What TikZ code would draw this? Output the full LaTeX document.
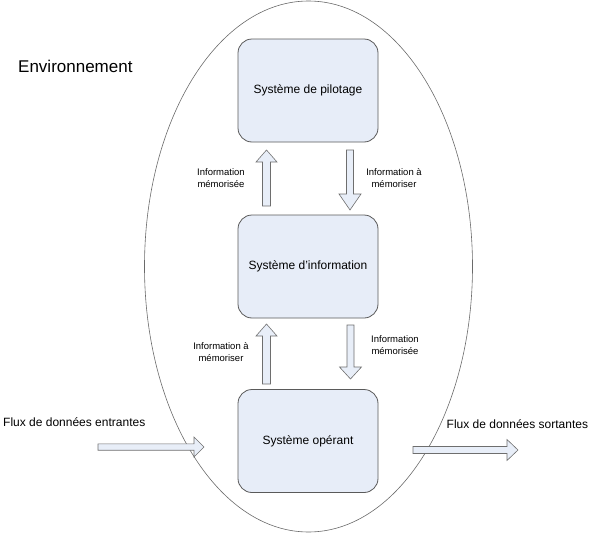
\documentclass[tikz,border=0pt]{standalone}
\usepackage{fontspec}
\setmainfont{Liberation Sans}
\usetikzlibrary{shapes.geometric}
\definecolor{boxfill}{HTML}{E7EDF8}
\definecolor{boxdraw}{HTML}{5A5A5A}
\definecolor{arrfill}{HTML}{E8EEF8}
\definecolor{arrdraw}{HTML}{6E6E6E}
\definecolor{ellcol}{HTML}{6A6A6A}
\tikzset{
  sysbox/.style={draw=boxdraw, fill=boxfill, line width=0.8pt, rounded corners=14pt,
    minimum width=140pt, minimum height=103pt, font=\fontsize{12}{14}\selectfont, inner sep=0pt},
  lbl/.style={font=\fontsize{9.5}{11.5}\selectfont, align=center, inner sep=0pt},
  flux/.style={font=\fontsize{12}{14}\selectfont, inner sep=0pt},
  blockarrow/.style={draw=arrdraw, fill=arrfill, line width=0.6pt, line join=miter}
}
% #1 start, #2 angle, #3 length, #4 head length, #5 half head width, #6 half shaft width
\newcommand\blkarrow[6]{%
  \draw[blockarrow, shift={#1}, rotate=#2]
    (0,-#6) -- ({#3-#4},-#6) -- ({#3-#4},-#5) -- (#3,0) -- ({#3-#4},#5) -- ({#3-#4},#6) -- (0,#6) -- cycle;}
\begin{document}
\begin{tikzpicture}[x=1pt,y=-1pt]
\useasboundingbox (0,0) rectangle (590,533);
\node[draw=ellcol, line width=0.6pt, ellipse, minimum width=328pt, minimum height=531pt, inner sep=0pt] (env) at (308.5,266.5) {};
\node[anchor=base west, inner sep=0pt, font=\fontsize{17}{20}\selectfont] (envlbl) at (18,72) {Environnement};

\node[sysbox] (pil) at (308,90.5) {Système de pilotage};
\node[sysbox] (inf) at (308,266.5) {Système d’information};
\node[sysbox] (ope) at (308,441) {Système opérant};

\blkarrow{(266.5,206)}{90}{56}{12}{10.5}{4}
\blkarrow{(350,150)}{-90}{60}{16}{11}{3.5}
\blkarrow{(266.5,384)}{90}{60}{12}{10.5}{4}
\blkarrow{(350.5,325)}{-90}{54}{12}{11}{3.5}

\node[lbl] (l1) at (221,178) {Information\\mémorisée};
\node[lbl] (l2) at (394,178) {Information à\\mémoriser};
\node[lbl] (l3) at (221,352) {Information à\\mémoriser};
\node[lbl] (l4) at (395,345) {Information\\mémorisée};

\node[flux, anchor=base west] (fin) at (3,426.5) {Flux de données entrantes};
\node[flux, anchor=base west] (fout) at (446.5,428) {Flux de données sortantes};
\blkarrow{(98,447)}{0}{106}{10}{10}{3.2}
\blkarrow{(413,450)}{0}{105}{11}{10.5}{3.5}
\end{tikzpicture}
\end{document}
